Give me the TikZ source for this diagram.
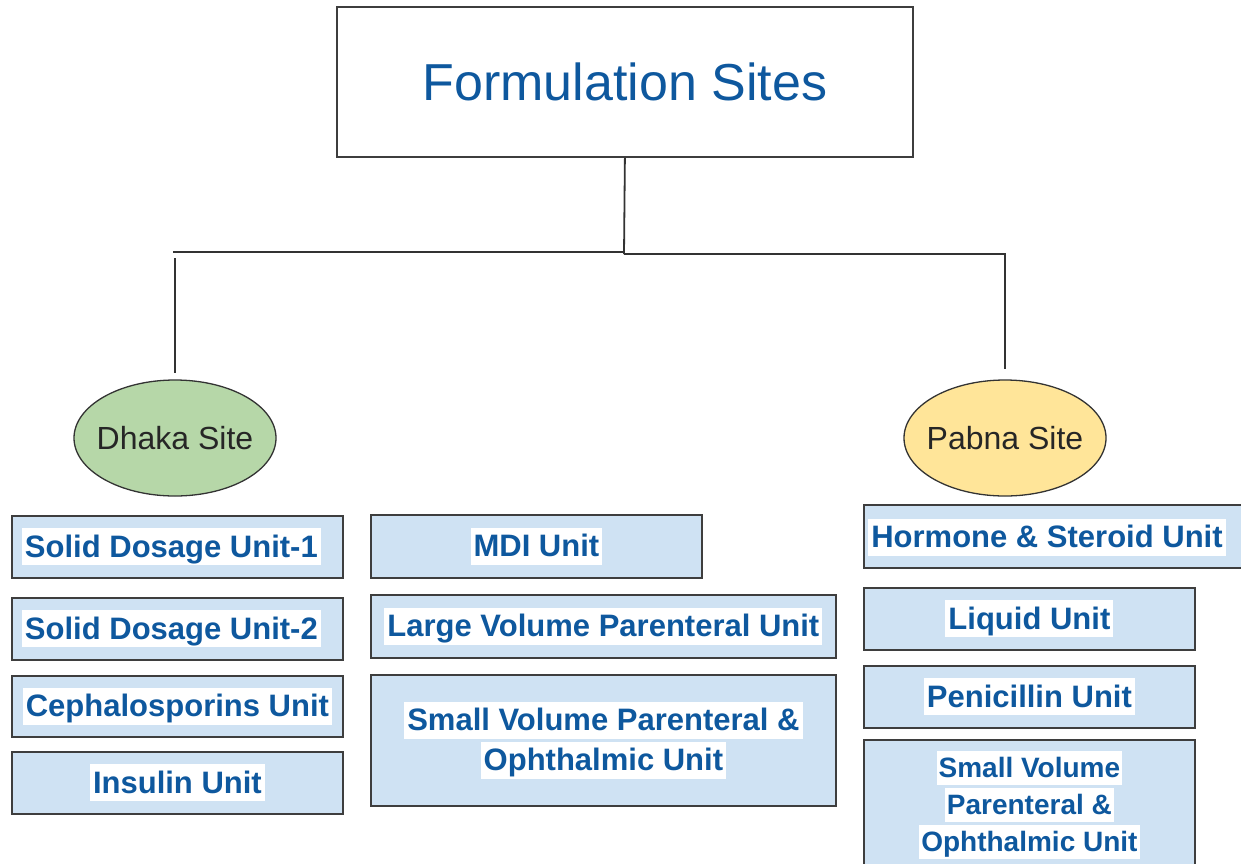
\documentclass[tikz,border=0pt]{standalone}
\usepackage{fontspec}
\setmainfont{Liberation Sans}
\usetikzlibrary{shapes.geometric}

\definecolor{unitblue}{RGB}{207,226,243}
\definecolor{textblue}{RGB}{14,88,158}
\definecolor{dhakagreen}{RGB}{182,215,168}
\definecolor{pabnayellow}{RGB}{255,229,153}
\definecolor{edgegray}{RGB}{62,62,62}

% white highlight behind a line of unit text
\newcommand\hlt[1]{{\setlength{\fboxsep}{0pt}\colorbox{white}{\rule[-8pt]{0pt}{37pt}\hspace{3pt}#1\hspace{3pt}}}}
\newcommand\hlts[1]{{\setlength{\fboxsep}{0pt}\colorbox{white}{\rule[-7pt]{0pt}{34pt}\hspace{2pt}#1\hspace{2pt}}}}

\begin{document}
\begin{tikzpicture}[x=1pt,y=-1pt,
  link/.style={draw=black!80, line width=1.8pt},
  headbox/.style={draw=edgegray, line width=1.8pt, anchor=north west, inner sep=0pt,
    font=\fontsize{52}{60}\selectfont, text=textblue},
  site/.style={ellipse, draw=black!80, line width=1.3pt, minimum width=202, minimum height=116,
    inner sep=0pt},
  sitetext/.style={inner sep=0pt, font=\fontsize{32}{36}\selectfont, text=black!85},
  unitbox/.style={draw=edgegray, line width=1.8pt, fill=unitblue, anchor=north west, inner sep=0pt,
    font=\fontsize{31}{40}\selectfont\bfseries, text=textblue, align=center},
  unittext/.style={inner sep=0pt, font=\fontsize{31}{40}\selectfont\bfseries, text=textblue, align=center}
]
\useasboundingbox (0,0) rectangle (1241,863);

% heading
\node[headbox, minimum width=576, minimum height=150] (title) at (336,6) {Formulation Sites};

% sites
\node[site, fill=dhakagreen] (dhaka) at (175,438) {};
\node[sitetext] (dhakaText) at (dhaka.center) {Dhaka Site};
\node[site, fill=pabnayellow] (pabna) at (1005,438) {};
\node[sitetext] (pabnaText) at (pabna.center) {Pabna Site};

% connectors
\coordinate (hubL) at (624,252);
\coordinate (hubR) at (624,254);
\coordinate (dkTurn) at (173,252);
\coordinate (dkDrop) at (175,258);
\coordinate (pbTurn) at (1005,254);
\draw[link] (title.south) -- (hubR);
\draw[link] (hubL) -- (dkTurn);
\draw[link] (dkDrop) -- ([yshift=6pt]dhaka.north);
\draw[link] (hubR) -- (pbTurn) -- ([yshift=10pt]pabna.north);

% Dhaka units
\node[unitbox, minimum width=331, minimum height=62] (sd1) at (11,515) {\hlt{Solid Dosage Unit-1}\kern12pt};
\node[unitbox, minimum width=331, minimum height=62] (sd2) at (11,597) {\hlt{Solid Dosage Unit-2}\kern12pt};
\node[unitbox, minimum width=331, minimum height=61] (ceph) at (11,675) {\hlt{Cephalosporins Unit}};
\node[unitbox, minimum width=331, minimum height=62] (insulin) at (11,751) {\hlt{Insulin Unit}};

\node[unitbox, minimum width=331, minimum height=63] (mdi) at (370,514) {\hlt{MDI Unit}};
\node[unitbox, minimum width=465, minimum height=63] (lvp) at (370,594) {\hlt{Large Volume Parenteral Unit}};
\node[unitbox, minimum width=465, minimum height=131] (svpDhaka) at (370,674)
  {\hlt{Small Volume Parenteral \&}\\\hlt{Ophthalmic Unit}};

% Pabna units
\node[unitbox, minimum width=400, minimum height=63] (hormone) at (863,504) {};
\node[unittext] (hormoneText) at (1047,537) {\hlt{Hormone \& Steroid Unit}};
\node[unitbox, minimum width=331, minimum height=62] (liquid) at (863,587) {\hlt{Liquid Unit}};
\node[unitbox, minimum width=331, minimum height=62] (penicillin) at (863,665) {\hlt{Penicillin Unit}};
\node[unitbox, minimum width=331, minimum height=130, font=\fontsize{28}{37}\selectfont\bfseries]
  (svpPabna) at (863,739)
  {\hlts{Small Volume}\\\hlts{Parenteral \&}\\\hlts{Ophthalmic Unit}};
\end{tikzpicture}
\end{document}
